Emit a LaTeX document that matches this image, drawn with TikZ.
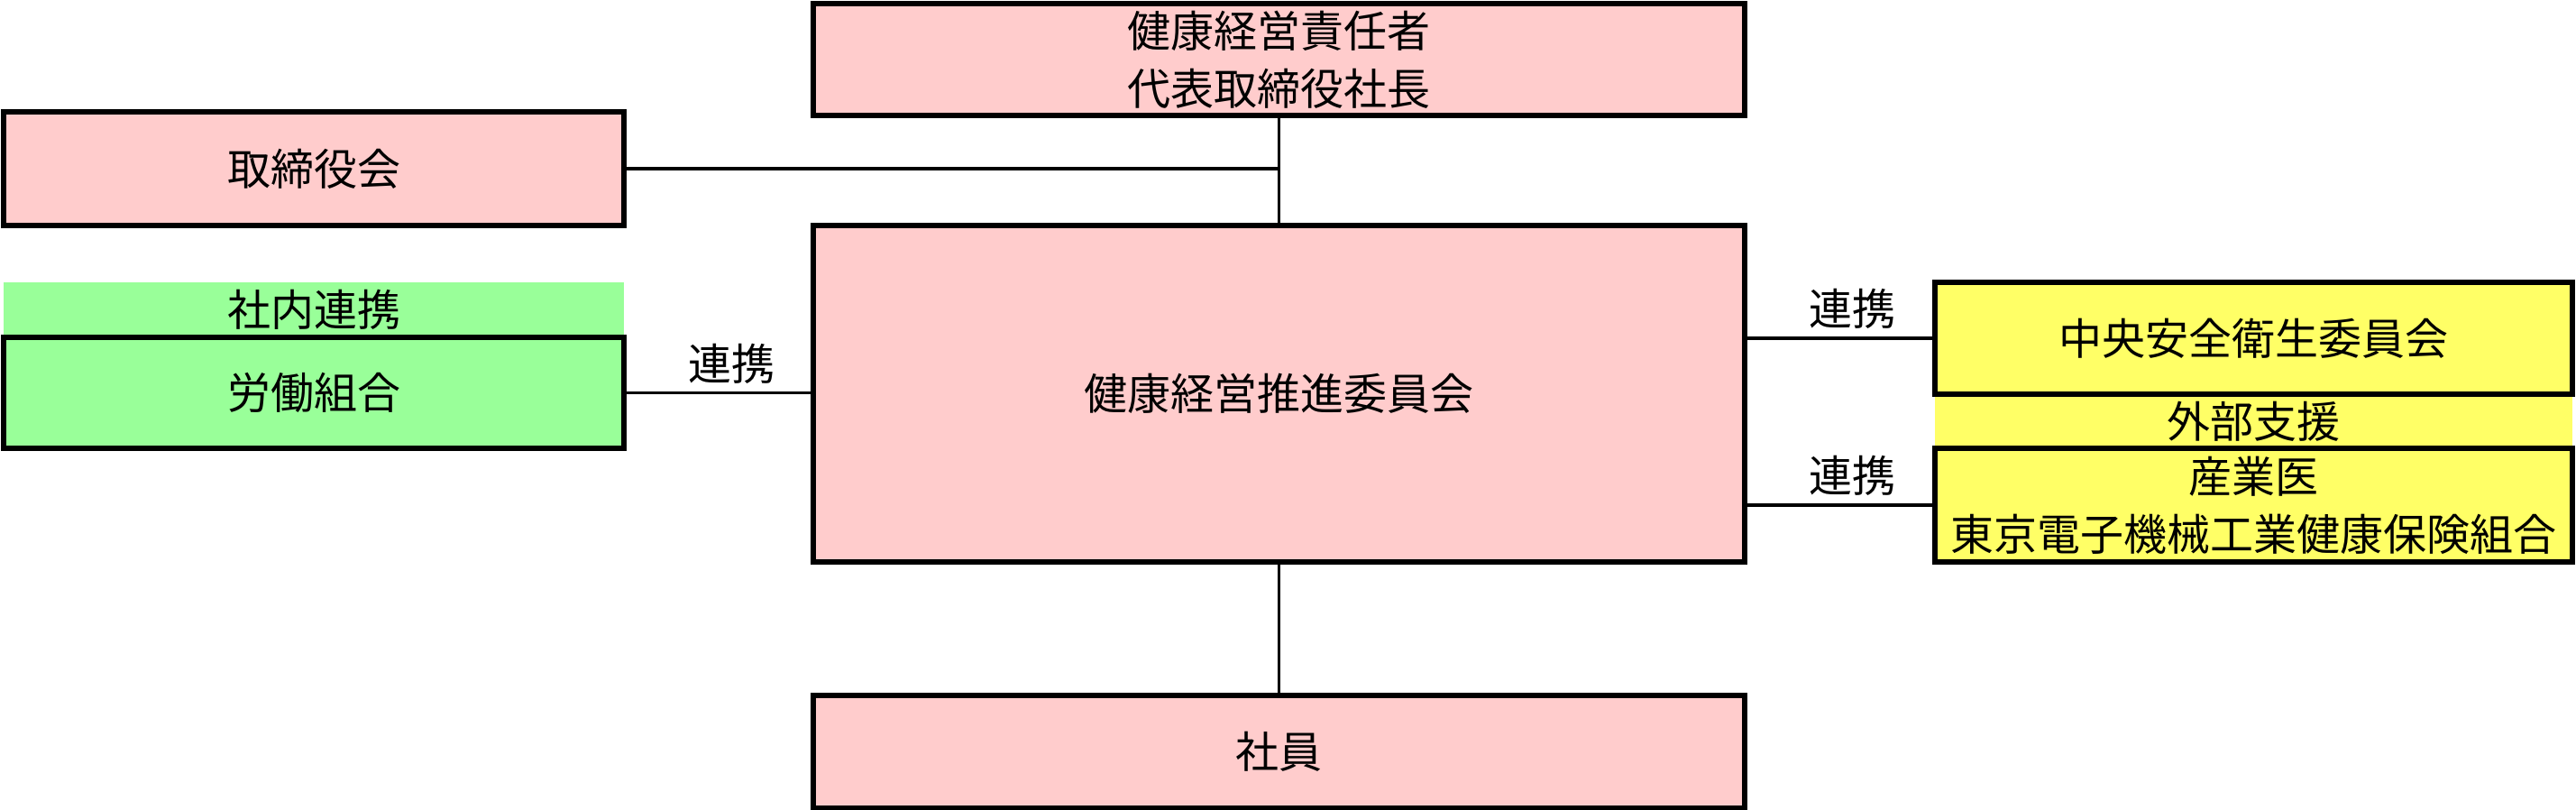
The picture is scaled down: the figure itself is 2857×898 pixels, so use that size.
\documentclass[tikz,border=0pt]{standalone}
\usepackage{fontspec}
\setmainfont{Noto Sans CJK JP}
\definecolor{pinkbox}{HTML}{FFCCCC}
\definecolor{greenbox}{HTML}{99FF99}
\definecolor{yellowbox}{HTML}{FFFF66}
\tikzset{
  orgbox/.style={draw=black, line width=3.2pt, inner sep=0pt, align=center},
  band/.style={inner sep=0pt, align=center},
  conn/.style={draw=black, line width=1.6pt},
  lbl/.style={inner sep=0pt, anchor=south},
}
\begin{document}
\begin{tikzpicture}[x=0.5pt,y=-0.5pt, font=\fontsize{24pt}{32pt}\selectfont]
\useasboundingbox (0,0) rectangle (2857,898);
% bands
\node[band, fill=greenbox, minimum width=344pt, minimum height=30.5pt] (inband) at (348,343.5) {社内連携};
\node[band, fill=yellowbox, minimum width=353.5pt, minimum height=30pt] (exband) at (2499.5,467) {外部支援};
% boxes
\node[orgbox, fill=pinkbox, minimum width=516.5pt, minimum height=62pt] (top) at (1418.5,66) {健康経営責任者\\代表取締役社長};
\node[orgbox, fill=pinkbox, minimum width=344pt, minimum height=63pt] (tori) at (348,187) {取締役会};
\node[orgbox, fill=greenbox, minimum width=344pt, minimum height=61.5pt] (roudou) at (348,435.5) {労働組合};
\node[orgbox, fill=pinkbox, minimum width=516.5pt, minimum height=186.5pt] (big) at (1418.5,436.5) {健康経営推進委員会};
\node[orgbox, fill=pinkbox, minimum width=516.5pt, minimum height=62.5pt] (shain) at (1418.5,833.5) {社員};
\node[orgbox, fill=yellowbox, minimum width=353.5pt, minimum height=62pt] (chuo) at (2499.5,375) {中央安全衛生委員会};
\node[orgbox, fill=yellowbox, minimum width=353.5pt, minimum height=63pt] (sangyo) at (2499.5,560) {産業医\\東京電子機械工業健康保険組合};
% connectors
\draw[conn] (top.south) -- (big.north);
\draw[conn] (tori.east) -- (tori.east -| top.south);
\draw[conn] (big.south) -- (shain.north);
\draw[conn] (roudou.east) -- (roudou.east -| big.west) coordinate[midway] (lm);
\draw[conn] (chuo.west -| big.east) -- (chuo.west) coordinate[midway] (rm1);
\draw[conn] (sangyo.west -| big.east) -- (sangyo.west) coordinate[midway] (rm2);
\node[lbl] (l1) at ([xshift=7pt,yshift=5pt]lm) {連携};
\node[lbl] (l2) at ([xshift=7pt,yshift=5pt]rm1) {連携};
\node[lbl] (l3) at ([xshift=7pt,yshift=5pt]rm2) {連携};
\end{tikzpicture}
\end{document}
